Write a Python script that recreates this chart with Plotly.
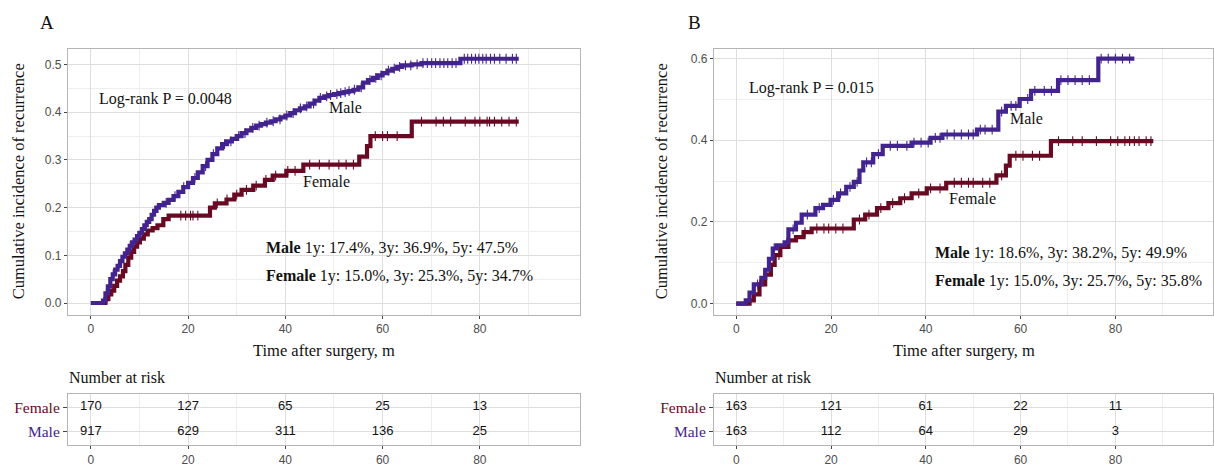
import numpy as np
import plotly.graph_objects as go

# ---------------- data ----------------
# Panel A
a_male_t = [0, 2.5, 3.0, 3.5, 4.0, 4.5, 5.0, 5.5, 6.0, 6.5, 7.0, 7.5, 8.0, 8.5, 9.0, 9.5, 10, 10.5, 11, 11.5,
            12, 12.5, 13, 13.5, 14, 15, 16, 17, 18, 19, 20, 21, 22, 23, 24, 25, 26, 27, 28, 29, 30, 31, 32, 33,
            34, 35, 36, 37, 38, 39, 40, 41, 42, 43, 44, 45, 46, 47, 48, 49, 50, 51, 52, 53, 54, 55, 56, 57, 58,
            59, 60, 61, 62, 63, 64, 66, 68, 76, 88]
a_male_y = [0, 0.005, 0.02, 0.035, 0.05, 0.06, 0.07, 0.078, 0.088, 0.097, 0.104, 0.112, 0.12, 0.127, 0.133, 0.14,
            0.147, 0.155, 0.163, 0.17, 0.176, 0.185, 0.193, 0.2, 0.205, 0.21, 0.216, 0.224, 0.233, 0.243, 0.252,
            0.262, 0.274, 0.287, 0.3, 0.312, 0.324, 0.333, 0.339, 0.344, 0.35, 0.356, 0.362, 0.367, 0.372, 0.375,
            0.378, 0.381, 0.385, 0.389, 0.393, 0.398, 0.404, 0.408, 0.412, 0.418, 0.424, 0.43, 0.433, 0.436, 0.438,
            0.44, 0.442, 0.444, 0.447, 0.452, 0.462, 0.467, 0.472, 0.477, 0.482, 0.487, 0.491, 0.495, 0.498, 0.5,
            0.503, 0.512, 0.512]
a_female_t = [0, 3.0, 3.6, 4.2, 4.8, 5.4, 6.0, 6.6, 7.1, 7.7, 8.3, 8.9, 9.5, 10.1, 10.9, 11.7, 12.7, 13.7, 14.9,
              16.0, 24.5, 25.5, 27.9, 29.5, 31.0, 33.4, 35.8, 37.4, 40.2, 43.7, 55.2, 56.8, 57.5, 66.0, 88]
a_female_y = [0, 0.008, 0.018, 0.026, 0.036, 0.047, 0.056, 0.067, 0.08, 0.095, 0.107, 0.118, 0.127, 0.135, 0.144,
              0.152, 0.157, 0.163, 0.176, 0.183, 0.2, 0.209, 0.217, 0.227, 0.237, 0.246, 0.258, 0.267, 0.277, 0.29,
              0.307, 0.329, 0.35, 0.38, 0.38]
a_male_cens = [3.2, 4.6, 6.3, 8.1, 9.7, 11.4, 13.2, 15.5, 17.3, 19.1, 21.4, 23.6, 25.2, 27.5, 28.8, 30.4, 31.7,
               33.3, 34.6, 36.2, 37.5, 38.9, 40.3, 41.6, 43.1, 44.4, 45.8, 47.2, 48.5, 49.3, 50.6, 51.4, 52.3, 53.1,
               54.2, 55.6, 57.4, 58.6, 59.7, 61.2, 62.4, 63.5, 64.7, 65.8, 67.1, 68.3, 69.2, 70.1, 70.9, 71.8, 72.6,
               73.4, 74.3, 75.1, 76.8, 77.5, 78.3, 79.1, 79.8, 80.6, 81.3, 82.2, 83.0, 84.1, 85.4, 86.7, 87.5]
a_female_cens = [18.5, 19.5, 20.5, 21.0, 22.0, 26, 28, 30, 32, 34, 36, 38, 40.5, 42, 45, 47, 49, 51, 52.5, 54,
                 58.5, 60, 61, 63, 68, 71, 72.5, 74, 77, 79, 80, 81.5, 82, 83, 84.5, 86, 87.5]
a_risk_female = [170, 127, 65, 25, 13]
a_risk_male = [917, 629, 311, 136, 25]

# Panel B
b_male_t = [0, 2.0, 2.8, 3.7, 5.3, 6.1, 6.9, 7.7, 8.5, 10.2, 11.0, 12.6, 13.8, 16.7, 18.3, 19.9, 21.5, 23.2, 24.8,
            26.0, 26.8, 28.9, 30.9, 37.0, 41.0, 43.5, 50.8, 55.3, 56.9, 59.8, 62.2, 67.9, 76.4, 84]
b_male_y = [0, 0.008, 0.027, 0.047, 0.063, 0.083, 0.11, 0.135, 0.143, 0.15, 0.182, 0.198, 0.218, 0.234, 0.242,
            0.254, 0.27, 0.286, 0.298, 0.326, 0.346, 0.366, 0.386, 0.394, 0.406, 0.414, 0.426, 0.47, 0.484, 0.501,
            0.521, 0.547, 0.6, 0.6]
b_female_t = [0, 2.8, 3.7, 4.9, 6.1, 7.3, 8.1, 9.3, 11.0, 12.6, 14.2, 15.9, 24.8, 27.2, 29.7, 32.1, 34.6, 37.0,
              40.2, 44.3, 54.9, 56.9, 57.7, 66.4, 88]
b_female_y = [0, 0.008, 0.023, 0.047, 0.071, 0.095, 0.119, 0.139, 0.155, 0.163, 0.175, 0.184, 0.206, 0.218, 0.234,
              0.246, 0.258, 0.27, 0.282, 0.296, 0.314, 0.338, 0.362, 0.398, 0.398]
b_male_cens = [4.5, 8, 12, 15, 17.5, 20.5, 22, 24, 25.5, 27.5, 28.5, 30, 32.5, 34, 36, 37.5, 39, 40.5, 42, 43,
               44.5, 46, 47.5, 49, 50, 51.5, 52.5, 54, 56, 58, 59, 61.5, 63, 65, 66.5, 68.5, 70, 71.5, 73, 74.5,
               77, 78.5, 80, 81.5, 83]
b_female_cens = [5, 9, 14.5, 17, 18.5, 19.5, 21, 22.5, 26, 28, 30.5, 33, 35.5, 38.5, 41, 43, 46, 47.5, 49, 50,
                 52, 53.5, 56, 59, 60.5, 62.5, 64, 68, 71, 73, 76, 79, 80.5, 82, 83, 84, 85, 86.5, 87.5]
b_risk_female = [163, 121, 61, 22, 11]
b_risk_male = [163, 112, 64, 29, 3]

risk_times = [0, 20, 40, 60, 80]
groups = ["Male", "Female"]

MALE_COLOR = "#43248E"
FEMALE_COLOR = "#680A24"
SERIF = "Liberation Serif"
SANS = "Liberation Sans"

W, H = 1214, 467
DY = 5  # vertical offset in px


def px_x(p):
    return p / W


def px_y(p):
    return 1 - (p + DY) / H


def step_val(ts, ys, t):
    i = np.searchsorted(np.array(ts), t, side="right") - 1
    return ys[max(i, 0)]


fig = go.Figure()


def add_curves(xa, ya, mt, my, ft, fy, mc, fc):
    for t, y, c, name in [(ft, fy, FEMALE_COLOR, "Female"), (mt, my, MALE_COLOR, "Male")]:
        fig.add_trace(go.Scatter(x=t, y=y, mode="lines", line=dict(color=c, width=4.2, shape="hv"),
                                 xaxis=xa, yaxis=ya, showlegend=False, name=name))
    for cens, t, y, c in [(fc, ft, fy, FEMALE_COLOR), (mc, mt, my, MALE_COLOR)]:
        fig.add_trace(go.Scatter(x=cens, y=[step_val(t, y, v) for v in cens], mode="markers",
                                 marker=dict(symbol="line-ns-open", size=7, color=c,
                                             line=dict(color=c, width=1.1)),
                                 xaxis=xa, yaxis=ya, showlegend=False, hoverinfo="skip"))


add_curves("x", "y", a_male_t, a_male_y, a_female_t, a_female_y, a_male_cens, a_female_cens)
add_curves("x3", "y3", b_male_t, b_male_y, b_female_t, b_female_y, b_male_cens, b_female_cens)


def add_table(xa, ya, rf, rm):
    fig.add_trace(go.Scatter(x=risk_times, y=[2] * 5, mode="text", text=[str(v) for v in rf],
                             textfont=dict(family=SANS, size=13, color="#111"), xaxis=xa, yaxis=ya,
                             showlegend=False, hoverinfo="skip"))
    fig.add_trace(go.Scatter(x=risk_times, y=[1] * 5, mode="text", text=[str(v) for v in rm],
                             textfont=dict(family=SANS, size=13, color="#111"), xaxis=xa, yaxis=ya,
                             showlegend=False, hoverinfo="skip"))


add_table("x2", "y2", a_risk_female, a_risk_male)
add_table("x4", "y4", b_risk_female, b_risk_male)

GRID = "#DEDEDE"
MINOR = "#EEEEEE"
BORDER = "#B5B5B5"
TICKFONT = dict(family=SANS, size=12, color="#4D4D4D")

xrange = [-4.7, 100.6]
common_x = dict(range=xrange, tickvals=[0, 20, 40, 60, 80], showgrid=True, gridcolor=GRID, gridwidth=1,
                minor=dict(tickvals=[10, 30, 50, 70, 90], showgrid=True, gridcolor=MINOR, gridwidth=1),
                showline=True, linecolor=BORDER, linewidth=1.2, mirror=True, ticks="outside", ticklen=3,
                tickcolor="#444", tickfont=TICKFONT, zeroline=False, fixedrange=True)

dom_a = [px_x(68), px_x(580)]
dom_b = [px_x(714), px_x(1213)]
dom_plot = [px_y(318), px_y(45)]
dom_tab = [px_y(452), px_y(399)]

ROWFONT = dict(family=SERIF, size=15.5)

fig.update_layout(
    width=W, height=H, margin=dict(l=0, r=0, t=0, b=0),
    paper_bgcolor="white", plot_bgcolor="white", showlegend=False,
    xaxis=dict(domain=dom_a, anchor="y", **common_x),
    yaxis=dict(domain=dom_plot, anchor="x", range=[-0.0245, 0.533], tickvals=[0, 0.1, 0.2, 0.3, 0.4, 0.5],
               ticktext=["0.0", "0.1", "0.2", "0.3", "0.4", "0.5"], showgrid=True, gridcolor=GRID,
               minor=dict(tickvals=[0.05, 0.15, 0.25, 0.35, 0.45], showgrid=True, gridcolor=MINOR),
               showline=True, linecolor=BORDER, linewidth=1.2, mirror=True, ticks="outside", ticklen=3,
               tickcolor="#444", tickfont=TICKFONT, zeroline=False),
    xaxis2=dict(domain=dom_a, anchor="y2", **common_x),
    yaxis2=dict(domain=dom_tab, anchor="x2", range=[0.45, 2.55], tickvals=[1, 2],
                ticktext=[f"<span style='color:{MALE_COLOR}'>Male</span>",
                          f"<span style='color:{FEMALE_COLOR}'>Female</span>"],
                tickfont=ROWFONT, showgrid=True, gridcolor=GRID,
                showline=True, linecolor=BORDER, linewidth=1.2, mirror=True, ticks="outside", ticklen=4,
                tickcolor="#444", zeroline=False),
    xaxis3=dict(domain=dom_b, anchor="y3", **common_x),
    yaxis3=dict(domain=dom_plot, anchor="x3", range=[-0.027, 0.624], tickvals=[0, 0.2, 0.4, 0.6],
                ticktext=["0.0", "0.2", "0.4", "0.6"], showgrid=True, gridcolor=GRID,
                minor=dict(tickvals=[0.1, 0.3, 0.5], showgrid=True, gridcolor=MINOR),
                showline=True, linecolor=BORDER, linewidth=1.2, mirror=True, ticks="outside", ticklen=3,
                tickcolor="#444", tickfont=TICKFONT, zeroline=False),
    xaxis4=dict(domain=dom_b, anchor="y4", **common_x),
    yaxis4=dict(domain=dom_tab, anchor="x4", range=[0.45, 2.55], tickvals=[1, 2],
                ticktext=[f"<span style='color:{MALE_COLOR}'>Male</span>",
                          f"<span style='color:{FEMALE_COLOR}'>Female</span>"],
                tickfont=ROWFONT, showgrid=True, gridcolor=GRID,
                showline=True, linecolor=BORDER, linewidth=1.2, mirror=True, ticks="outside", ticklen=4,
                tickcolor="#444", zeroline=False),
)

ann = []
TXT = dict(family=SERIF, size=16, color="#111")


def data_text(xr, yr, x, y, text, xanchor="left", font=TXT):
    ann.append(dict(xref=xr, yref=yr, x=x, y=y, text=text, showarrow=False, xanchor=xanchor,
                    yanchor="middle", font=font))


def paper_text(xp, yp, text, xanchor="center", size=16.5, angle=0):
    ann.append(dict(xref="paper", yref="paper", x=px_x(xp), y=px_y(yp), text=text, showarrow=False,
                    xanchor=xanchor, yanchor="middle", textangle=angle,
                    font=dict(family=SERIF, size=size, color="#111")))


# Panel A texts
data_text("x", "y", 1.2, 0.428, "Log-rank P = 0.0048")
data_text("x", "y", 52.4, 0.409, "Male", "center")
data_text("x", "y", 48.5, 0.254, "Female", "center")
data_text("x", "y", 35.6, 0.115, "<b>Male</b> 1y: 17.4%, 3y: 36.9%, 5y: 47.5%")
data_text("x", "y", 35.6, 0.057, "<b>Female</b> 1y: 15.0%, 3y: 25.3%, 5y: 34.7%")
# Panel B texts
data_text("x3", "y3", 2.2, 0.527, "Log-rank P = 0.015")
data_text("x3", "y3", 61.2, 0.453, "Male", "center")
data_text("x3", "y3", 49.8, 0.257, "Female", "center")
data_text("x3", "y3", 41.5, 0.123, "<b>Male</b> 1y: 18.6%, 3y: 38.2%, 5y: 49.9%")
data_text("x3", "y3", 41.5, 0.055, "<b>Female</b> 1y: 15.0%, 3y: 25.7%, 5y: 35.8%")

paper_text(47, 18, "A", size=19)
paper_text(694, 18, "B", size=19)
paper_text(18, 181, "Cumulative incidence of recurrence", angle=-90)
paper_text(661, 181, "Cumulative incidence of recurrence", angle=-90)
paper_text(324, 355, "Time after surgery, m")
paper_text(964, 355, "Time after surgery, m")
paper_text(67, 382, "Number at risk", xanchor="left", size=16)
paper_text(713, 382, "Number at risk", xanchor="left", size=16)

fig.update_layout(annotations=ann)

fig.write_html("out.html")
